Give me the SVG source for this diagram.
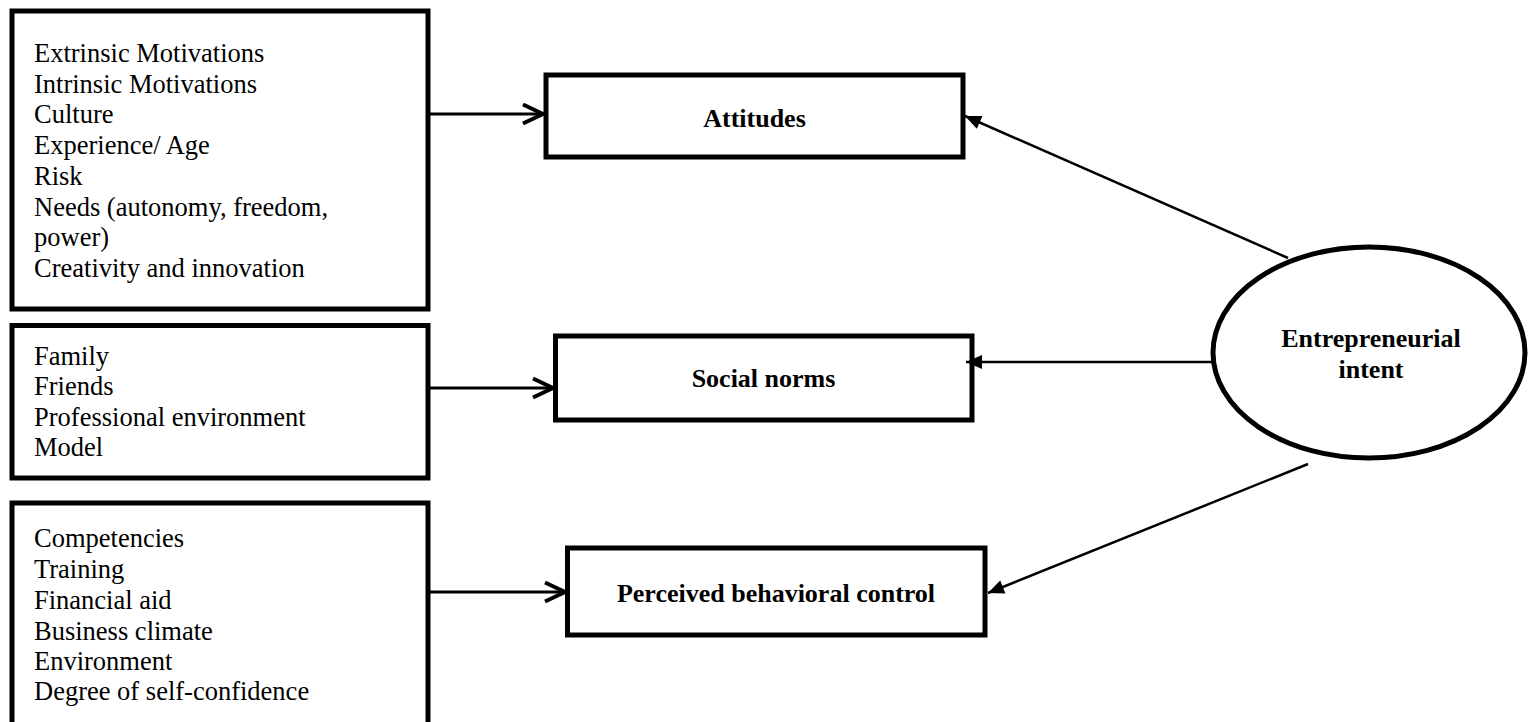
<svg xmlns="http://www.w3.org/2000/svg" width="1528" height="722" viewBox="0 0 1528 722">
<style>
.box{fill:#fff;stroke:#000;stroke-width:5}
.t{font-family:"Liberation Serif","Times New Roman",serif;font-size:26.5px;fill:#000}
.b{font-family:"Liberation Serif","Times New Roman",serif;font-size:26px;font-weight:bold;fill:#000;text-anchor:middle}
.in{stroke:#000;stroke-width:3;fill:none}
.out{stroke:#000;stroke-width:2.5;fill:none}
</style>
<defs>
<marker id="open" markerUnits="userSpaceOnUse" markerWidth="30" markerHeight="30" viewBox="-5 -5 30 30" refX="20" refY="10" orient="auto" overflow="visible">
<path d="M0,0.5 L20,10 L0,19.5" fill="none" stroke="#000" stroke-width="4"/>
</marker>
<marker id="solid" markerUnits="userSpaceOnUse" markerWidth="16" markerHeight="14" viewBox="0 0 16 14" refX="16" refY="7" orient="auto" overflow="visible">
<path d="M0,0 L16,7 L0,14 z" fill="#000"/>
</marker>
</defs>
<rect width="1528" height="722" fill="#fff"/>

<g id="factors-attitudes">
<rect class="box" x="12" y="11" width="416" height="298"/>
<text class="t" x="34" y="62">Extrinsic Motivations</text>
<text class="t" x="34" y="92.7">Intrinsic Motivations</text>
<text class="t" x="34" y="123.4">Culture</text>
<text class="t" x="34" y="154.1">Experience/ Age</text>
<text class="t" x="34" y="184.8">Risk</text>
<text class="t" x="34" y="215.5">Needs (autonomy, freedom,</text>
<text class="t" x="34" y="246.2">power)</text>
<text class="t" x="34" y="277">Creativity and innovation</text>
</g>

<g id="factors-social">
<rect class="box" x="12" y="325.5" width="416" height="152.5"/>
<text class="t" x="34" y="364.5">Family</text>
<text class="t" x="34" y="395">Friends</text>
<text class="t" x="34" y="425.5">Professional environment</text>
<text class="t" x="34" y="456">Model</text>
</g>

<g id="factors-control">
<rect class="box" x="12" y="503" width="416" height="250"/>
<text class="t" x="34" y="547">Competencies</text>
<text class="t" x="34" y="578">Training</text>
<text class="t" x="34" y="609">Financial aid</text>
<text class="t" x="34" y="640">Business climate</text>
<text class="t" x="34" y="670">Environment</text>
<text class="t" x="34" y="700">Degree of self-confidence</text>
</g>

<g id="attitudes">
<rect class="box" x="546" y="75" width="417" height="82"/>
<text class="b" x="754.5" y="127">Attitudes</text>
</g>

<g id="social-norms">
<rect class="box" x="555.5" y="336" width="416.5" height="84"/>
<text class="b" x="763.5" y="387">Social norms</text>
</g>

<g id="perceived-control">
<rect class="box" x="567.5" y="548" width="417.5" height="87"/>
<text class="b" x="776" y="602">Perceived behavioral control</text>
</g>

<g id="entrepreneurial-intent">
<ellipse cx="1369" cy="352.5" rx="156" ry="105.5" fill="#fff" stroke="#000" stroke-width="5"/>
<text class="b" x="1371" y="347">Entrepreneurial</text>
<text class="b" x="1371" y="378">intent</text>
</g>

<g id="connectors">
<line class="in" x1="428" y1="114" x2="543" y2="114" marker-end="url(#open)"/>
<line class="in" x1="428" y1="388" x2="553" y2="388" marker-end="url(#open)"/>
<line class="in" x1="428" y1="592" x2="565" y2="592" marker-end="url(#open)"/>
<line class="out" x1="1288" y1="258" x2="965" y2="116" marker-end="url(#solid)"/>
<line class="out" x1="1213" y1="362" x2="966" y2="362" marker-end="url(#solid)"/>
<line class="out" x1="1308" y1="464" x2="988" y2="593" marker-end="url(#solid)"/>
</g>
</svg>
